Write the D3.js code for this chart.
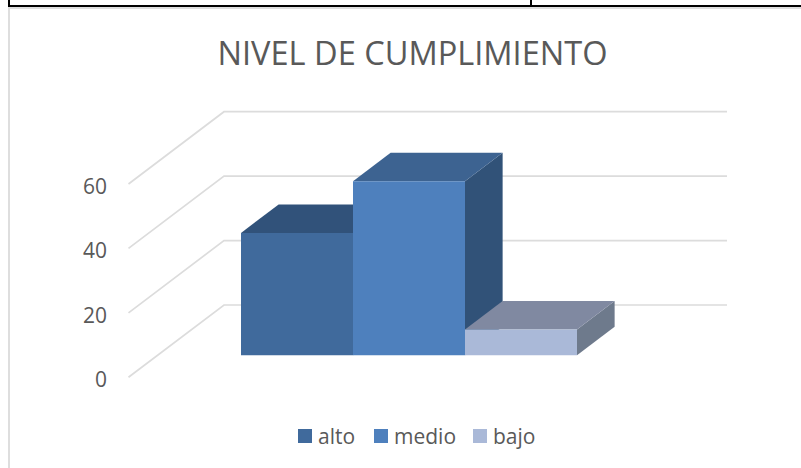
<!DOCTYPE html>
<html><head><meta charset="utf-8">
<script src="https://cdn.jsdelivr.net/npm/d3@7"></script>
<style>html,body{margin:0;padding:0;background:#fff}svg{display:block}</style>
</head><body><svg id="c" width="801" height="468"></svg>
<script>
const titleText = "NIVEL DE CUMPLIMIENTO";
const seriesNames = ["alto", "medio", "bajo"];
const seriesValues = [38, 54, 8];
const tickValues = [0, 20, 40, 60];
const frontColors = ["#406a9c", "#4e80bd", "#aab9d8"];
const topColors = ["#31527a", "#3d6391", "#8089a1"];
const sideColors = ["#2c4d73", "#315278", "#6e7a8c"];
const fontFamily = "'Open Sans', 'Noto Sans', sans-serif";

const svg = d3.select("#c");
const y = d3.scaleLinear().domain([0, 60]).range([377.3, 184]);
const depthX = d3.scaleLinear().domain([0, 1]).range([0, 95.5]);
const depthY = d3.scaleLinear().domain([0, 1]).range([0, -72.3]);
const xBack = d3.scaleLinear().domain([0, 1]).range([224, 727]);
const xBars = d3.scaleBand().domain(seriesNames).range([241, 577]);
const barFrontDepth = 0.304, barBackDepth = 0.698;
const barBase = y(0) + depthY(barFrontDepth);

// outer page frame
svg.append("path").attr("d", "M9,0V6H801M531,0V6").attr("fill", "none").attr("stroke", "#000").attr("stroke-width", 2);
// chart border
svg.append("path").attr("d", "M9,468V8H801").attr("fill", "none").attr("stroke", "#dedede").attr("stroke-width", 2);

// gridlines: side wall and back wall
const grid = svg.append("g").attr("fill", "none").attr("stroke", "#dcdcdc").attr("stroke-width", 1.7);
tickValues.forEach(t => {
  const x0 = xBack(0) - depthX(1);
  grid.append("path").attr("d", d3.line()([[x0, y(t)], [xBack(0), y(t) + depthY(1)], [xBack(1), y(t) + depthY(1)]]));
});

// axis labels
svg.append("g").selectAll("text").data(tickValues).join("text")
  .attr("x", 107).attr("y", d => y(d) + 2).attr("dy", "0.35em").attr("text-anchor", "end")
  .attr("font-family", fontFamily).attr("font-size", 22).attr("textLength", d => String(d).length * 12).attr("lengthAdjust", "spacingAndGlyphs")
  .attr("fill", "#595959").text(d => d);

// bars
const dX = depthX(barBackDepth - barFrontDepth), dY = depthY(barBackDepth - barFrontDepth);
const bars = svg.append("g").selectAll("g").data(seriesNames).join("g");
bars.each(function (name, i) {
  const g = d3.select(this);
  const x0 = xBars(name), x1 = x0 + xBars.bandwidth();
  const top = barBase - (y(0) - y(seriesValues[i]));
  const poly = (pts, fill) => g.append("polygon").attr("points", pts.join(" ")).attr("fill", fill);
  poly([[x1, barBase], [x1 + dX, barBase + dY], [x1 + dX, top + dY], [x1, top]], sideColors[i]);
  poly([[x0, top], [x1, top], [x1 + dX, top + dY], [x0 + dX, top + dY]], topColors[i]);
  poly([[x0, barBase], [x1, barBase], [x1, top], [x0, top]], frontColors[i]);
});

// title
svg.append("text").attr("x", 412.5).attr("y", 65).attr("text-anchor", "middle")
  .attr("font-family", fontFamily).attr("font-size", 33).attr("textLength", 390).attr("lengthAdjust", "spacingAndGlyphs")
  .attr("fill", "#595959").text(titleText);

// legend
const legendX = [298, 374, 473];
const legend = svg.append("g").selectAll("g").data(seriesNames).join("g")
  .attr("transform", (d, i) => `translate(${legendX[i]},429)`);
legend.append("rect").attr("width", 14).attr("height", 14).attr("fill", (d, i) => frontColors[i]);
legend.append("text").attr("x", 20).attr("y", 15).attr("font-family", fontFamily).attr("font-size", 21).attr("fill", "#595959").text(d => d);
</script></body></html>
